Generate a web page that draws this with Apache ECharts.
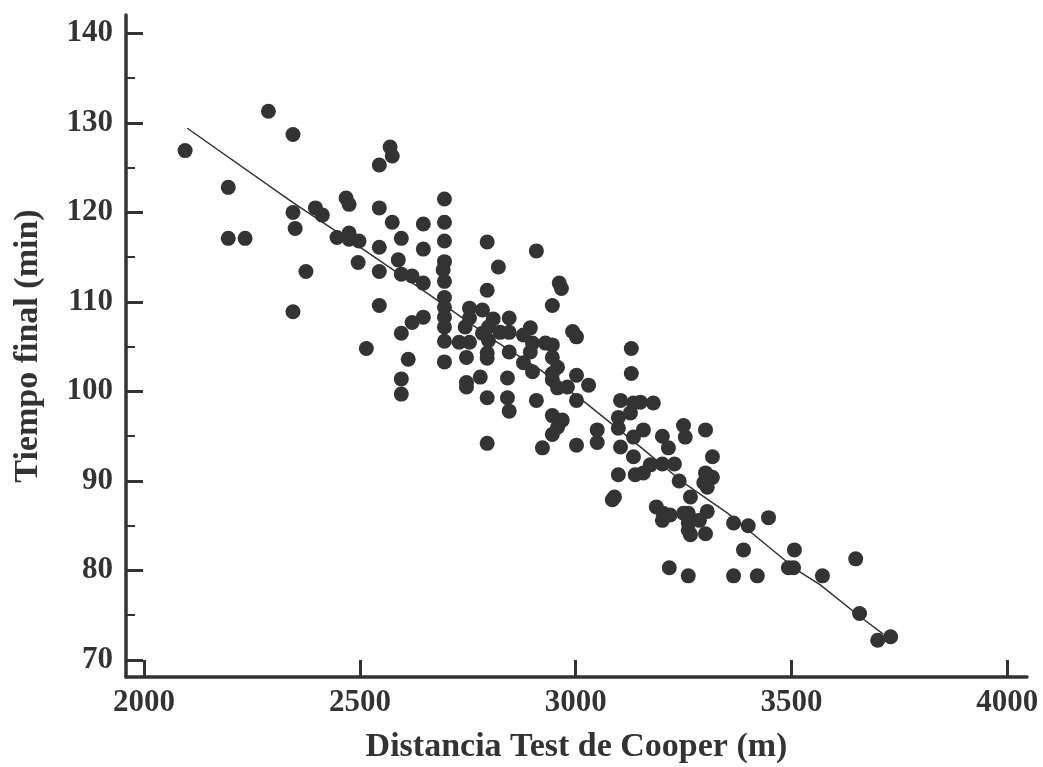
<!DOCTYPE html>
<html>
<head>
<meta charset="utf-8">
<script src="https://cdn.jsdelivr.net/npm/echarts@6/dist/echarts.min.js"></script>
<style>
html,body{margin:0;padding:0;background:#fff;}
#chart{width:1043px;height:767px;}
</style>
</head>
<body>
<div id="chart"></div>
<script>
// Distancia Test de Cooper (m)
const distance = [2095,2195,2195,2234,2288,2345,2345,2350,2375,2345,2397,2413,2468,2475,2447,2475,2475,2498,2496,2545,
2570,2575,2545,2575,2596,2545,2589,2545,2596,2621,2545,2621,2596,2515,2612,2596,2596,2696,2696,2696,
2696,2693,2696,2696,2696,2696,2696,2696,2696,2647,2647,2647,2647,2795,2821,2795,2909,2962,2967,2946,
2754,2784,2754,2809,2846,2744,2798,2784,2825,2846,2730,2754,2798,2747,2795,2795,2846,2895,2879,2900,
2895,2930,2946,2946,2958,2946,2946,2879,2900,2958,2981,3002,3030,3002,2747,2747,2779,2842,2795,2842,
2846,2909,2946,2969,2958,2946,2795,2923,3002,3050,3050,3129,3129,3104,3134,3150,3099,3127,3099,3157,
3134,3104,3134,3180,3250,3254,3301,3201,3215,3173,3201,3229,3157,3138,3099,3240,3317,3301,3317,3305,
3297,3266,3090,3085,3187,3203,3219,3201,3250,3261,3305,3287,3261,3261,3266,3301,3366,3400,3447,3389,
3507,3493,3505,3649,3217,3261,3366,3421,3572,3658,3700,3730,2993,3002];
// Tiempo final (min)
const timeMin = [126.9,122.8,117.1,117.1,131.3,128.7,120.0,118.2,113.4,108.9,120.5,119.7,121.6,120.9,117.2,117.7,117.0,116.8,114.4,125.3,
127.3,126.3,120.5,118.9,117.1,116.1,114.7,113.4,113.1,112.9,109.6,107.7,106.5,104.8,103.6,101.4,99.7,121.5,118.9,116.8,
114.5,113.6,112.3,110.5,109.4,108.3,107.2,105.6,103.3,118.7,115.9,112.1,108.3,116.7,113.9,111.3,115.7,112.1,111.5,109.6,
109.3,109.1,108.2,108.1,108.2,107.2,107.2,106.5,106.6,106.6,105.5,105.5,105.7,103.8,104.3,103.7,104.4,107.1,106.3,105.4,
104.4,105.4,105.2,103.8,102.7,102.0,101.3,103.2,102.2,100.4,100.5,101.8,100.7,99.0,101.0,100.5,101.6,101.5,99.3,99.3,
97.8,99.0,97.3,96.8,96.0,95.2,94.2,93.7,94.0,95.7,94.3,104.8,102.0,99.0,98.7,98.8,97.1,97.6,95.9,95.7,
94.9,93.8,92.7,98.7,96.2,94.9,95.7,95.0,93.7,91.8,91.9,91.9,90.9,90.7,90.7,90.0,92.7,90.9,90.4,89.3,
89.8,88.2,88.2,87.9,87.1,86.4,86.2,85.6,86.4,86.4,86.6,85.6,85.3,84.5,84.0,84.1,85.3,85.0,85.9,82.3,
82.3,80.3,80.3,81.3,80.3,79.4,79.4,79.4,79.4,75.2,72.2,72.6,106.7,106.1];
// fitted line
const fitX = [2100,2345,2501,2640,2818,2918,3016,3150,3250,3352,3428,3514,3567,3660,3713];
const fitY = [129.4,121.1,116.1,111.5,105.5,102.4,99.0,93.8,89.8,86.4,83.4,80.0,78.4,74.8,72.9];
// ticks
const xTicks = [2000,2500,3000,3500,4000];
const yTicks = [70,80,90,100,110,120,130,140];
const yMinorTicks = [75,85,95,105,115,125,135];

const ink = '#333333';
const font = '"Liberation Serif", "DejaVu Serif", serif';
const plain = v => String(v);

const chart = echarts.init(document.getElementById('chart'), null, {renderer:'canvas'});
chart.setOption({
  animation:false,
  backgroundColor:'#ffffff',
  grid:{left:126, right:16, top:15, bottom:90, containLabel:false, outerBoundsMode:'none'},
  xAxis:{
    type:'value', min:1958, max:4046,
    name:'Distancia Test de Cooper (m)', nameLocation:'middle', nameGap:53,
    nameTextStyle:{color:ink, fontFamily:font, fontWeight:'bold', fontSize:34},
    axisLine:{show:true, lineStyle:{color:ink, width:3.5}},
    axisTick:{show:true, inside:true, length:17, lineStyle:{color:ink, width:3}, customValues:xTicks},
    axisLabel:{color:ink, fontFamily:font, fontWeight:'bold', fontSize:31, margin:10, customValues:xTicks, formatter:plain, showMinLabel:true, showMaxLabel:true, hideOverlap:false},
    splitLine:{show:false}
  },
  yAxis:[{
    type:'value', min:68.1, max:142.05,
    name:'Tiempo final (min)', nameLocation:'middle', nameGap:81,
    nameTextStyle:{color:ink, fontFamily:font, fontWeight:'bold', fontSize:34},
    axisLine:{show:true, lineStyle:{color:ink, width:3.5}},
    axisTick:{show:true, inside:true, length:17, lineStyle:{color:ink, width:3}, customValues:yTicks},
    axisLabel:{color:ink, fontFamily:font, fontWeight:'bold', fontSize:31, margin:13, customValues:yTicks, formatter:plain},
    splitLine:{show:false}
  },{
    type:'value', min:68.1, max:142.05, position:'left',
    axisLine:{show:false},
    axisTick:{show:true, inside:true, length:9, lineStyle:{color:ink, width:2}, customValues:yMinorTicks},
    axisLabel:{show:false},
    splitLine:{show:false}
  }],
  series:[{
    type:'scatter',
    data: distance.map((d,i)=>[d, timeMin[i]]),
    symbol:'circle', symbolSize:15,
    itemStyle:{color:ink, opacity:1},
    z:3
  },{
    type:'line',
    data: fitX.map((d,i)=>[d, fitY[i]]),
    showSymbol:false, symbol:'none', smooth:false,
    lineStyle:{color:ink, width:1.5},
    z:2
  }]
});
</script>
</body>
</html>
